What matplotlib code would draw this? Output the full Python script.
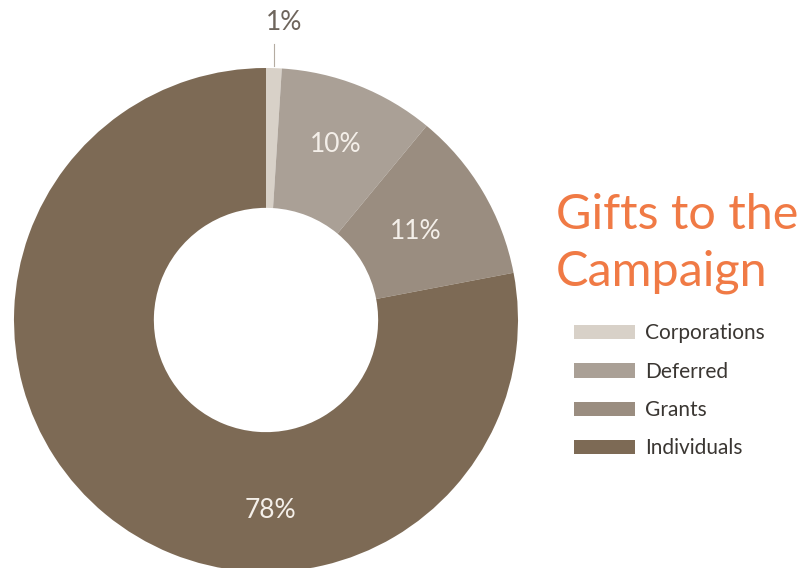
import numpy as np
import matplotlib.pyplot as plt

categories = ['Corporations', 'Deferred', 'Grants', 'Individuals']
shares = [1, 10, 11, 78]
colors = ['#d8d1c8', '#aaa096', '#9a8d80', '#7d6a55']

W, H = 802, 568
fig = plt.figure(figsize=(W / 100, H / 100), dpi=100)
ax = fig.add_axes([0, 0, 1, 1])

cx, cy, R = 266, H - 320, 252
wedges, _ = ax.pie(shares, colors=colors, startangle=90, counterclock=False,
                   center=(cx, cy), radius=R, frame=False,
                   wedgeprops=dict(width=R * 0.555, edgecolor='none'))
ax.set_xlim(0, W)
ax.set_ylim(0, H)
ax.set_aspect('equal')
ax.axis('off')

font = 'Lato'
# inner labels at slice middles
for w, s, rr in zip(wedges[1:3], shares[1:3], [0.75, 0.69]):
    ang = np.deg2rad((w.theta1 + w.theta2) / 2)
    ax.text(cx + rr * R * np.cos(ang), cy + rr * R * np.sin(ang), f'{s}%',
            ha='center', va='center', color='#f4efe9', fontsize=19, family=font)
# big slice label placed near bottom
ax.text(cx + 4, H - 510, f'{shares[3]}%', ha='center', va='center',
        color='#f4efe9', fontsize=19, family=font)
# small slice label outside with leader line
ang = np.deg2rad((wedges[0].theta1 + wedges[0].theta2) / 2)
x0 = cx + R * np.cos(ang)
ax.plot([x0, x0], [cy + R + 2, cy + R + 24], color='#b5aca2', lw=0.8)
ax.text(x0 + 10, H - 22, f'{shares[0]}%', ha='center', va='center',
        color='#6e655c', fontsize=19, family=font)

ax.text(556, H - 215, 'Gifts to the', ha='left', va='center',
        color='#f07a45', fontsize=35, family=font)
ax.text(556, H - 272, 'Campaign', ha='left', va='center',
        color='#f07a45', fontsize=35, family=font)

leg = ax.legend(wedges, categories, loc='upper left',
                bbox_to_anchor=(564 / W, 1 - 313 / H), frameon=False,
                prop=dict(family=font, size=15), labelcolor='#3a3632',
                handlelength=2.9, handleheight=0.7, labelspacing=0.88,
                handletextpad=0.5, borderpad=0)

fig.savefig('out.png', dpi=100, facecolor='white')
